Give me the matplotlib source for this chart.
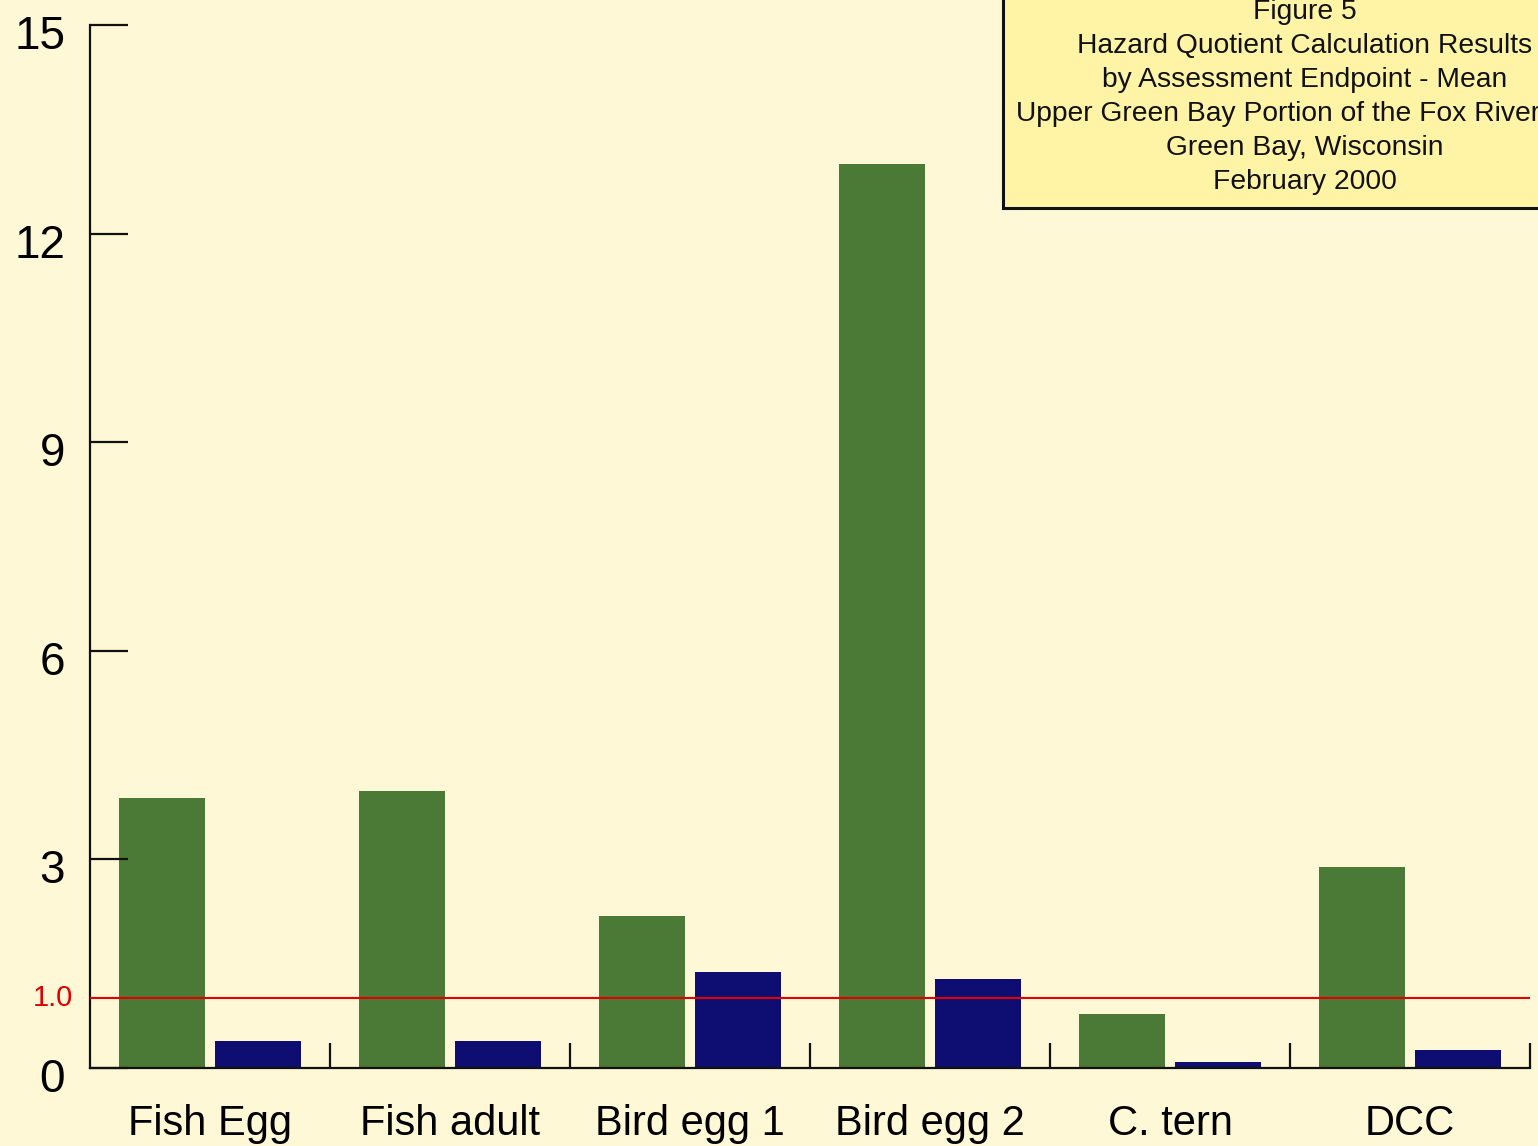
"""
Hazard quotient bar chart (Figure 5, Upper Green Bay)
"""

import matplotlib
matplotlib.use("Agg")
import matplotlib.pyplot as plt
import matplotlib.transforms as mtransforms
from matplotlib.patches import Rectangle

# data
CATEGORIES = ["Fish Egg", "Fish adult", "Bird egg 1", "Bird egg 2", "C. tern", "DCC"]
GREEN_VALUES = [3.88, 3.98, 2.19, 13.0, 0.78, 2.89]
BLUE_VALUES = [0.39, 0.39, 1.38, 1.28, 0.08, 0.26]
Y_TICKS = [0, 3, 6, 9, 12, 15]
THRESHOLD = 1.0
TITLE_LINES = ["Figure 5",
               "Hazard Quotient Calculation Results",
               "by Assessment Endpoint - Mean",
               "Upper Green Bay Portion of the Fox River",
               "Green Bay, Wisconsin",
               "February 2000"]
# horizontal centre of each title line, in pixels (the long line sits further left)
TITLE_X = [1305, 1305, 1305, 1278, 1305, 1305]

BG = "#FFF8D6"
GREEN = "#4B7A37"
BLUE = "#0E0E72"
BOX = "#FFF3A6"

plt.rcParams["font.family"] = ["Liberation Sans", "DejaVu Sans"]

fig = plt.figure(figsize=(15.38, 11.46), dpi=100, facecolor=BG)
ax = fig.add_axes([90 / 1538, 78 / 1146, 1440 / 1538, 1043 / 1146])
ax.set_facecolor(BG)

n = len(CATEGORIES)
centers = [i + 0.5 for i in range(n)]
ax.bar([c - 0.2 for c in centers], GREEN_VALUES, width=0.36, color=GREEN)
ax.bar([c + 0.2 for c in centers], BLUE_VALUES, width=0.36, color=BLUE)

ax.axhline(THRESHOLD, color="#E00000", lw=1.5, zorder=3)
ax.text(-0.012, THRESHOLD, "1.0", color="#E00000", fontsize=21,
        ha="right", va="center",
        transform=mtransforms.blended_transform_factory(ax.transAxes, ax.transData))

ax.set_xlim(0, n)
ax.set_ylim(0, 15)

for side in ["top", "right"]:
    ax.spines[side].set_visible(False)
for side in ["left", "bottom"]:
    ax.spines[side].set_linewidth(1.6)
    ax.spines[side].set_color("#111111")

# y axis
ax.set_yticks(Y_TICKS)
ax.set_yticklabels([str(t) for t in Y_TICKS])
ax.tick_params(axis="y", direction="in", length=27, width=1.6, pad=18,
               labelsize=33, color="#111111")
shift = mtransforms.ScaledTranslation(0, -7 / 100, fig.dpi_scale_trans)
for tick in ax.yaxis.get_major_ticks():
    tick.label1.set_transform(tick.label1.get_transform() + shift)

# x axis: ticks at group boundaries, labels at group centres
ax.set_xticks(range(1, n + 1))
ax.set_xticklabels([])
ax.tick_params(axis="x", which="major", direction="in", length=18, width=1.6,
               color="#111111")
ax.set_xticks(centers, minor=True)
ax.set_xticklabels(CATEGORIES, minor=True)
ax.tick_params(axis="x", which="minor", length=0, pad=26, labelsize=30)

# title box in the top right corner
fig.patches.append(Rectangle((1003 / 1538, 1 - 208 / 1146), 0.5, 0.3,
                             transform=fig.transFigure, facecolor=BOX,
                             edgecolor="#111111", lw=2.2, zorder=5))
for i, line in enumerate(TITLE_LINES):
    fig.text(TITLE_X[i] / 1538, 1 - (12 + 34 * i) / 1146, line, fontsize=20.3,
             ha="center", va="center", color="#111111", zorder=6)

fig.savefig("out.png", dpi=100, facecolor=BG)
